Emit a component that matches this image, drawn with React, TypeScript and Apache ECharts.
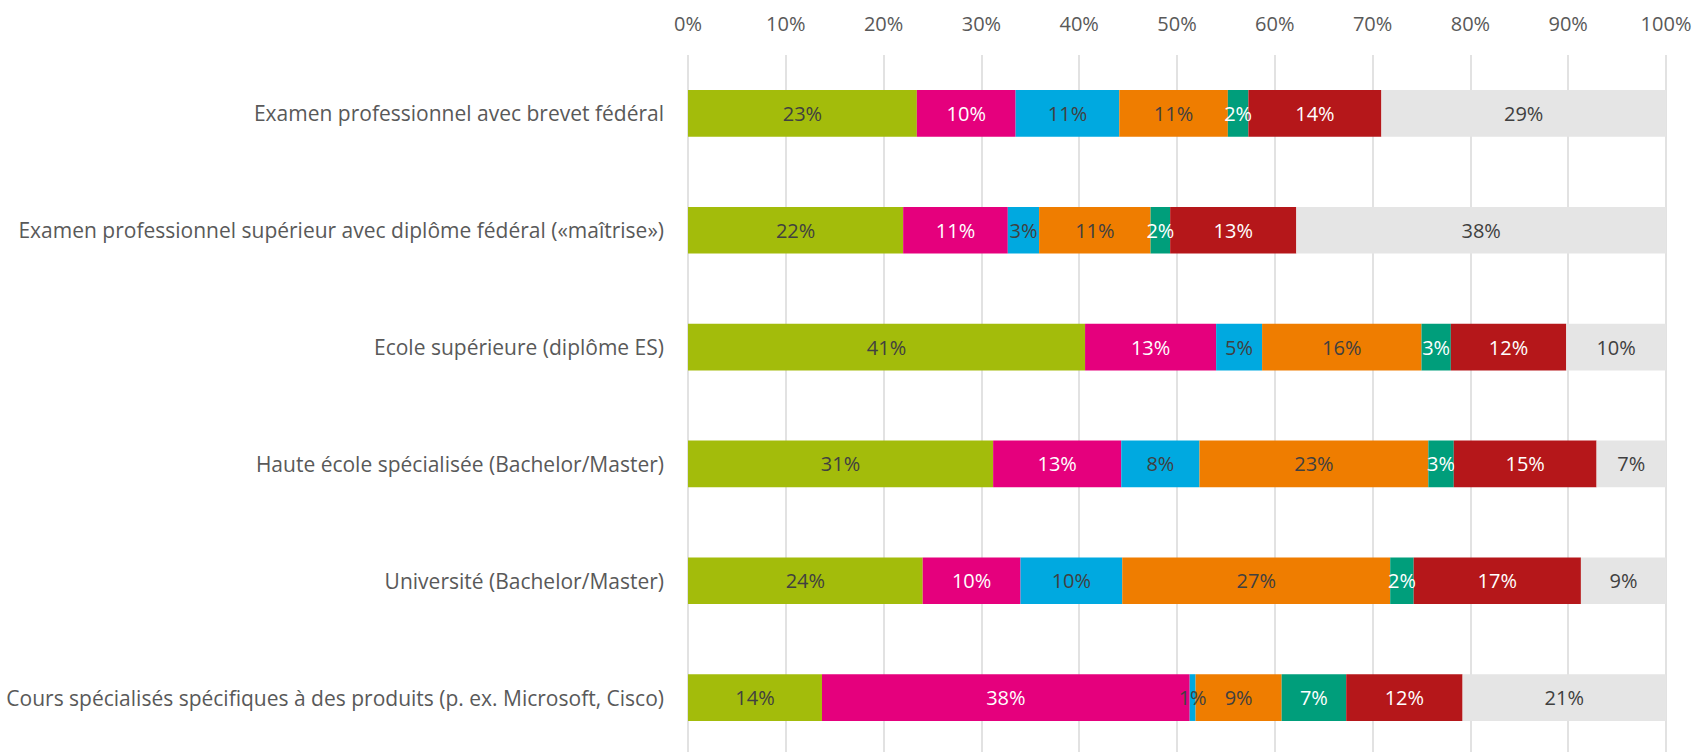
import React, { useEffect, useRef } from "react";
import * as echarts from "echarts";

const categories = [
  "Examen professionnel avec brevet fédéral",
  "Examen professionnel supérieur avec diplôme fédéral («maîtrise»)",
  "Ecole supérieure (diplôme ES)",
  "Haute école spécialisée (Bachelor/Master)",
  "Université (Bachelor/Master)",
  "Cours spécialisés spécifiques à des produits (p. ex. Microsoft, Cisco)",
];

const xTicks = [0, 10, 20, 30, 40, 50, 60, 70, 80, 90, 100];

const seriesGreen = [23.4, 22.0, 40.6, 31.2, 24.0, 13.7];
const seriesMagenta = [10.1, 10.7, 13.4, 13.1, 10.0, 37.6];
const seriesCyan = [10.6, 3.2, 4.7, 8.0, 10.4, 0.6];
const seriesOrange = [11.1, 11.4, 16.3, 23.4, 27.4, 8.8];
const seriesTeal = [2.1, 2.0, 3.0, 2.6, 2.4, 6.6];
const seriesRed = [13.6, 12.9, 11.8, 14.6, 17.1, 11.9];
const seriesGrey = [29.1, 37.8, 10.2, 7.1, 8.7, 20.8];

const seriesDefs = [
  { name: "s1", data: seriesGreen, color: "#A3BC0B", text: "#404040" },
  { name: "s2", data: seriesMagenta, color: "#E5007D", text: "#FFFFFF" },
  { name: "s3", data: seriesCyan, color: "#00A9E0", text: "#404040" },
  { name: "s4", data: seriesOrange, color: "#EF7D00", text: "#404040" },
  { name: "s5", data: seriesTeal, color: "#009E7B", text: "#FFFFFF" },
  { name: "s6", data: seriesRed, color: "#B5171A", text: "#FFFFFF" },
  { name: "s7", data: seriesGrey, color: "#E5E5E5", text: "#404040" },
];

const FONT = "'Open Sans', 'Noto Sans', sans-serif";

export default function App() {
  const ref = useRef<HTMLDivElement>(null);
  useEffect(() => {
    if (!ref.current) return;
    const chart = echarts.init(ref.current, undefined, { renderer: "svg" });
    chart.setOption({
      animation: false,
      backgroundColor: "#FFFFFF",
      grid: {
        left: 688,
        right: 30,
        top: 55,
        height: 701,
        containLabel: false,
        outerBoundsMode: "none",
      },
      xAxis: {
        type: "value",
        position: "top",
        min: xTicks[0],
        max: xTicks[xTicks.length - 1],
        interval: 10,
        axisLine: { show: false },
        axisTick: { show: false },
        axisLabel: {
          formatter: "{value}%",
          color: "#595959",
          fontFamily: FONT,
          fontSize: 20,
          lineHeight: 24,
          margin: 20,
        },
        splitLine: { show: true, lineStyle: { color: "#D9D9D9", width: 1.5 } },
      },
      yAxis: {
        type: "category",
        inverse: true,
        data: categories,
        axisLine: { show: false },
        axisTick: { show: false },
        axisLabel: {
          color: "#595959",
          fontFamily: FONT,
          fontSize: 21,
          margin: 24,
        },
      },
      series: seriesDefs.map((s) => ({
        name: s.name,
        type: "bar",
        stack: "total",
        barWidth: "40%",
        data: s.data,
        itemStyle: { color: s.color },
        label: {
          show: true,
          position: "inside",
          formatter: (p: any) => `${Math.round(p.value)}%`,
          color: s.text,
          fontFamily: FONT,
          fontSize: 20,
        },
        labelLayout: { hideOverlap: false },
      })),
    });
    return () => chart.dispose();
  }, []);
  return (
    <div
      ref={ref}
      style={{ position: "fixed", left: 0, top: 0, width: 1696, height: 752 }}
    />
  );
}
